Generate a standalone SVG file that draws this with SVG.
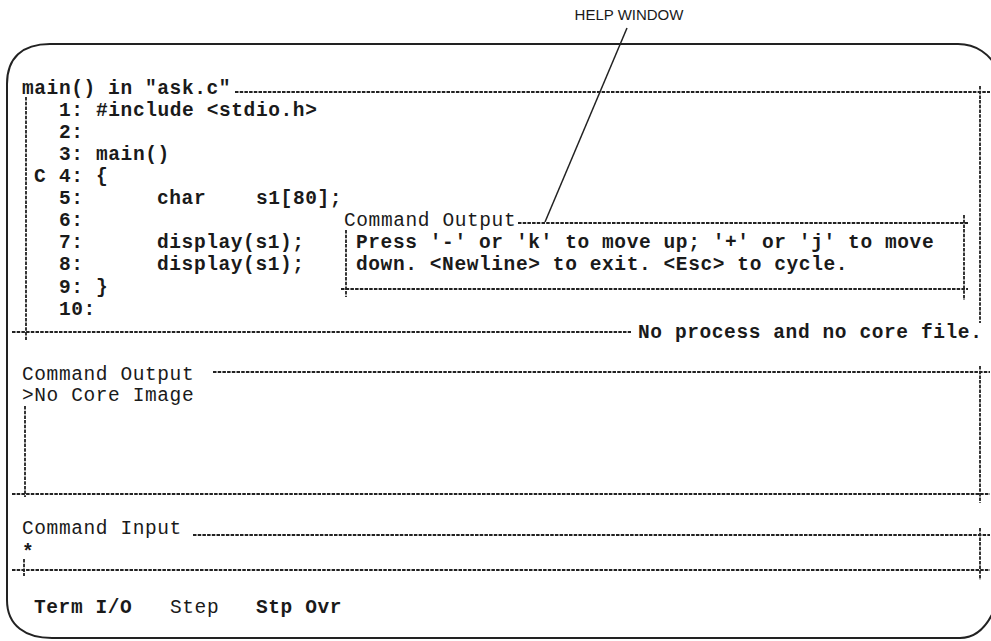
<svg xmlns="http://www.w3.org/2000/svg" width="991" height="641" viewBox="0 0 991 641">
<style>
.t{font-family:"Liberation Mono","DejaVu Sans Mono",monospace;font-size:19.5px;letter-spacing:0.6px;fill:#1a1a1a}
.b{font-weight:bold}
.n{font-weight:normal}
.d{stroke:#222;stroke-width:1.8;stroke-dasharray:3.5 1.2;fill:none}
.lbl{font-family:"Liberation Sans",Arial,sans-serif;font-size:15px;fill:#1a1a1a}
</style>
<rect width="991" height="641" fill="#fff"/>
<g id="frame">
<path d="M50 44 L958 44 C976 44 990 54 998 70 L998 600 C990 624 978 638 960 638 L52 638 C26 638 7 626 7 600 L7 84 C7 58 22 44 50 44 Z" fill="none" stroke="#222" stroke-width="2"/>
</g>
<g id="source-window">
<line class="d" x1="235" y1="92" x2="990" y2="92"/>
<line class="d" x1="980" y1="86" x2="980" y2="323"/>
<line class="d" x1="26" y1="97" x2="26" y2="340"/>
<line class="d" x1="12" y1="332" x2="631" y2="332"/>
<text class="t b" x="22" y="94">main() in "ask.c"</text>
<g class="t b">
<text x="59" y="116">1:</text><text x="96" y="116">#include &lt;stdio.h&gt;</text>
<text x="59" y="138">2:</text>
<text x="59" y="160">3:</text><text x="96" y="160">main()</text>
<text x="34" y="182">C</text><text x="59" y="182">4:</text><text x="96" y="182">{</text>
<text x="59" y="204">5:</text><text x="157" y="204">char</text><text x="256" y="204">s1[80];</text>
<text x="59" y="226">6:</text>
<text x="59" y="248">7:</text><text x="157" y="248">display(s1);</text>
<text x="59" y="270">8:</text><text x="157" y="270">display(s1);</text>
<text x="59" y="293">9:</text><text x="96" y="293">}</text>
<text x="59" y="315">10:</text>
</g>
<text class="t b" x="638" y="338">No process and no core file.</text>
</g>
<g id="help-window">
<line class="d" x1="518" y1="223" x2="968" y2="223"/>
<line class="d" x1="964" y1="215" x2="964" y2="300"/>
<line class="d" x1="341" y1="289" x2="968" y2="289"/>
<line class="d" x1="346" y1="230" x2="346" y2="297"/>
<text class="t n" x="344" y="226">Command Output</text>
<text class="t b" x="356" y="248">Press '-' or 'k' to move up; '+' or 'j' to move</text>
<text class="t b" x="356" y="270">down. &lt;Newline&gt; to exit. &lt;Esc&gt; to cycle.</text>
</g>
<g id="command-output">
<line class="d" x1="213" y1="372" x2="990" y2="372"/>
<line class="d" x1="980" y1="366" x2="980" y2="503"/>
<line class="d" x1="25" y1="406" x2="25" y2="497"/>
<line class="d" x1="12" y1="494" x2="990" y2="494"/>
<text class="t n" x="22" y="380">Command Output</text>
<text class="t n" x="22" y="401">&gt;No Core Image</text>
</g>
<g id="command-input">
<line class="d" x1="193" y1="535" x2="990" y2="535"/>
<line class="d" x1="980" y1="528" x2="980" y2="580"/>
<line class="d" x1="12" y1="570" x2="990" y2="570"/>
<line class="d" x1="24" y1="559" x2="24" y2="576"/>
<text class="t n" x="22" y="534">Command Input</text>
<text class="t b" x="22" y="558">*</text>
</g>
<g id="menu-bar">
<text class="t b" x="34" y="613">Term I/O</text>
<text class="t n" x="170" y="613" fill="#444">Step</text>
<text class="t b" x="256" y="613">Stp Ovr</text>
</g>
<g id="help-label">
<text class="lbl" x="629" y="20" text-anchor="middle">HELP WINDOW</text>
</g>
<g id="connectors">
<line x1="627" y1="28" x2="545" y2="222" stroke="#222" stroke-width="1.5"/>
</g>
</svg>
